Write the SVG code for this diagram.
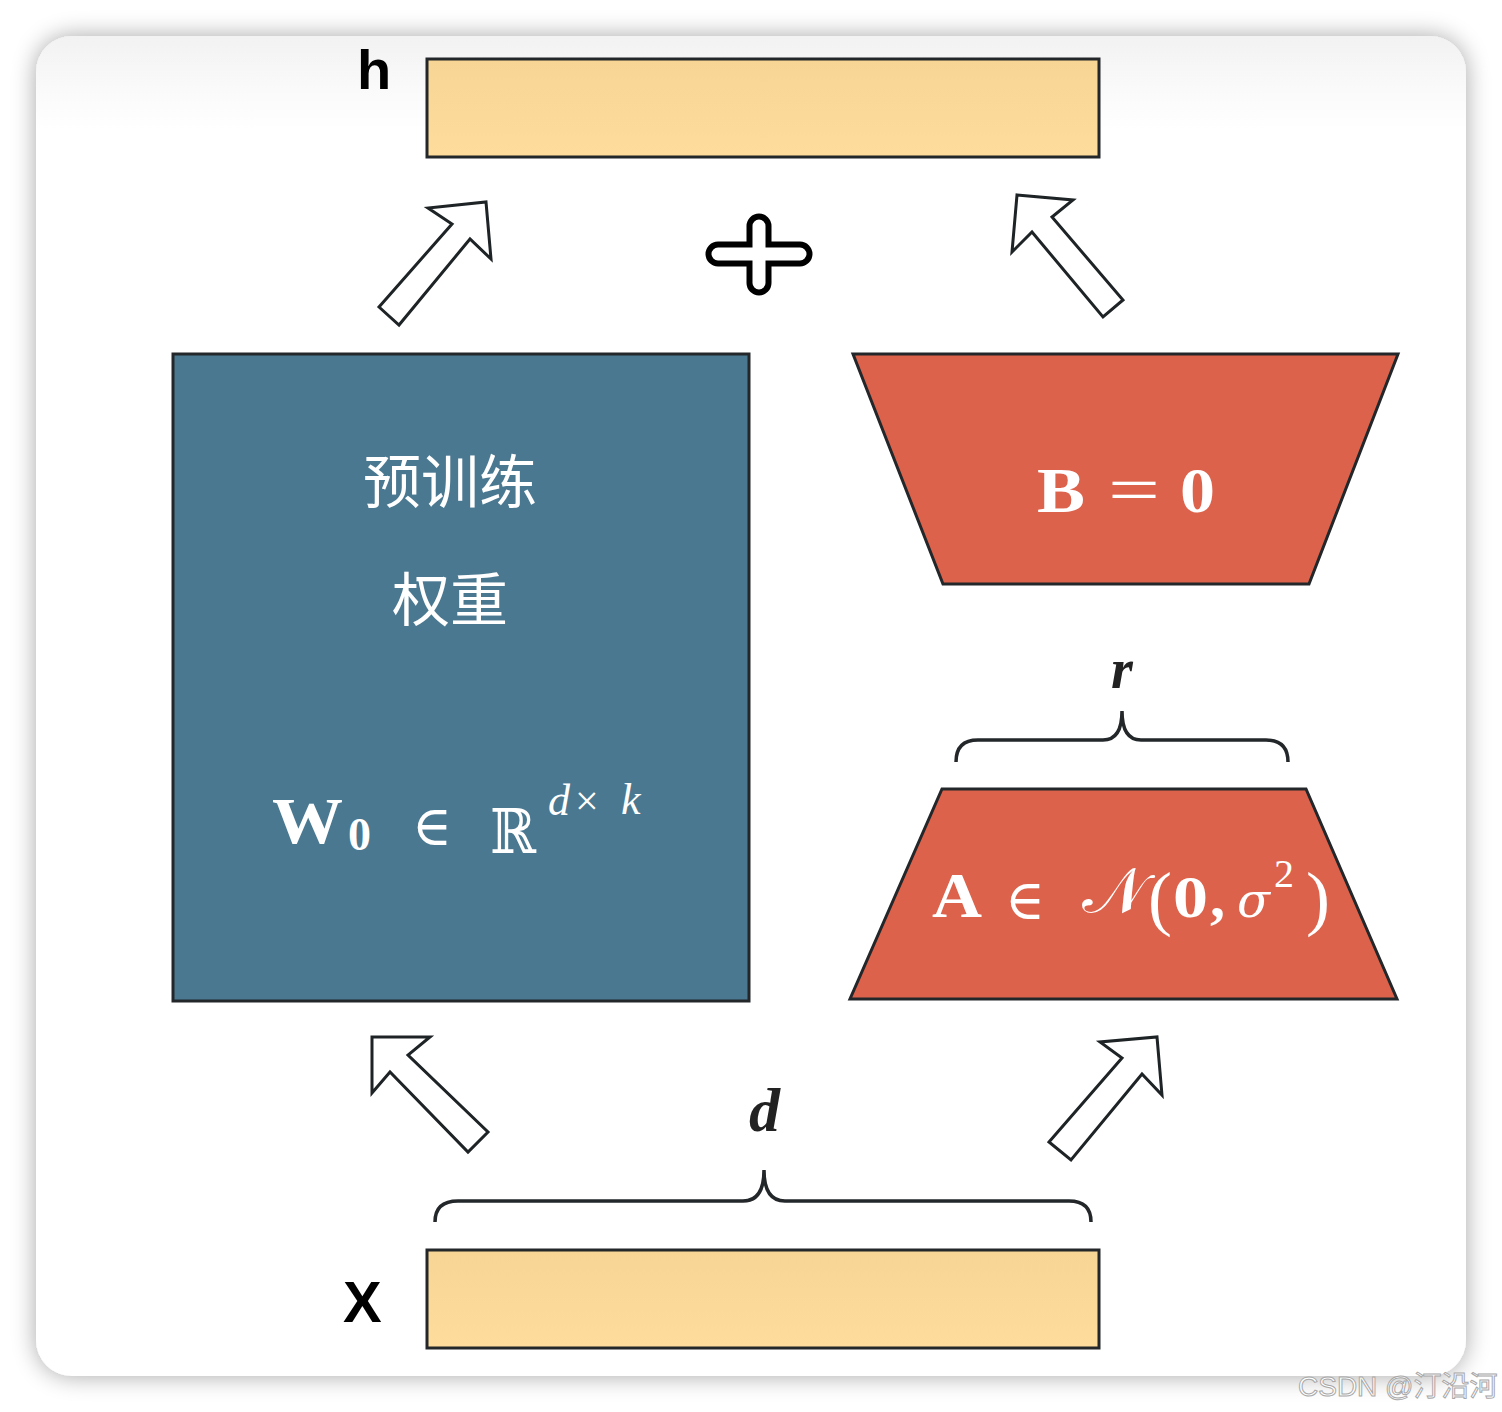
<svg xmlns="http://www.w3.org/2000/svg" width="1502" height="1412" viewBox="0 0 1502 1412">
<defs>
<filter id="shadow" x="-10%" y="-10%" width="120%" height="120%">
<feGaussianBlur in="SourceAlpha" stdDeviation="12"/>
<feComponentTransfer><feFuncA type="linear" slope="0.35"/></feComponentTransfer>
<feMerge><feMergeNode/><feMergeNode in="SourceGraphic"/></feMerge>
</filter>
<linearGradient id="cardg" x1="0" y1="0" x2="0" y2="1">
<stop offset="0" stop-color="#f2f2f2"/>
<stop offset="0.04" stop-color="#fafafa"/>
<stop offset="0.07" stop-color="#ffffff"/>
<stop offset="1" stop-color="#ffffff"/>
</linearGradient>
<linearGradient id="yel" x1="0" y1="0" x2="0" y2="1">
<stop offset="0" stop-color="#f7d594"/>
<stop offset="1" stop-color="#fedc9c"/>
</linearGradient>
<style>
.box{stroke:#23272a;stroke-width:3}
.arrow{fill:#fff;stroke:#1e2326;stroke-width:3;stroke-linejoin:miter}
.brace{fill:none;stroke:#23272a;stroke-width:3.5;stroke-linecap:butt}
.lbl{font-family:"Liberation Sans",Arial,sans-serif;font-weight:bold;fill:#000}
.cjk{font-family:"Noto Sans CJK SC","Noto Sans",sans-serif;fill:#fff;font-size:58px}
.m{font-family:"Liberation Serif","DejaVu Serif",serif;fill:#fff}
.mb{font-family:"Liberation Serif","DejaVu Serif",serif;font-weight:bold;fill:#fff}
.ms{font-family:"DejaVu Serif","Liberation Serif",serif;fill:#fff}
.mi{font-family:"Liberation Serif","DejaVu Serif",serif;font-style:italic;fill:#fff}
.dsi{font-family:"DejaVu Serif",serif;font-style:italic;fill:#fff}
.dk{font-family:"Liberation Serif","DejaVu Serif",serif;font-style:italic;fill:#222}
</style>
</defs>
<rect x="0" y="0" width="1502" height="1412" fill="#ffffff"/>
<rect x="36" y="36" width="1430" height="1340" rx="36" ry="36" fill="url(#cardg)" filter="url(#shadow)"/>

<g id="node-h">
<rect class="box" x="427" y="59" width="672" height="98" fill="url(#yel)"/>
<text class="lbl" x="357" y="89" font-size="56">h</text>
</g>

<g id="node-x">
<rect class="box" x="427" y="1250" width="672" height="98" fill="url(#yel)"/>
<text class="lbl" x="343" y="1322" font-size="58">X</text>
</g>

<g id="node-w0">
<rect class="box" x="173" y="354" width="576" height="647" fill="#4a7891"/>
<text class="cjk" x="450" y="503" text-anchor="middle">预训练</text>
<text class="cjk" x="450" y="621" text-anchor="middle">权重</text>
<text class="mb" x="272" y="843" font-size="66" textLength="71" lengthAdjust="spacingAndGlyphs">W</text>
<text class="mb" x="348" y="850" font-size="46">0</text>
<text class="ms" x="412" y="845" font-size="56" textLength="40" lengthAdjust="spacingAndGlyphs">∈</text>
<text class="ms" x="490" y="853" font-size="62" textLength="46" lengthAdjust="spacingAndGlyphs">ℝ</text>
<text class="mi" x="548" y="815" font-size="44">d</text>
<text class="m" x="575" y="815" font-size="42">×</text>
<text class="mi" x="621" y="814" font-size="44">k</text>
</g>

<g id="node-b">
<polygon class="box" points="853,354 1398,354 1309,584 943,584" fill="#dd624b"/>
<text class="mb" x="1037" y="512" font-size="64" textLength="48" lengthAdjust="spacingAndGlyphs">B</text>
<text class="m" x="1108" y="512" font-size="66" textLength="52" lengthAdjust="spacingAndGlyphs">=</text>
<text class="mb" x="1180" y="512" font-size="64" textLength="35" lengthAdjust="spacingAndGlyphs">0</text>
</g>

<g id="node-a">
<polygon class="box" points="942,789 1306,789 1397,999 850,999" fill="#dd624b"/>
<text class="mb" x="932" y="917" font-size="64" textLength="50" lengthAdjust="spacingAndGlyphs">A</text>
<text class="ms" x="1005" y="919" font-size="56" textLength="40" lengthAdjust="spacingAndGlyphs">∈</text>
<text class="ms" x="1082" y="912" font-size="62" textLength="64" lengthAdjust="spacingAndGlyphs">𝒩</text>
<text class="m" x="1148" y="922" font-size="72">(</text>
<text class="mb" x="1173" y="917" font-size="60" textLength="35" lengthAdjust="spacingAndGlyphs">0</text>
<text class="mb" x="1210" y="917" font-size="60">,</text>
<text class="dsi" x="1237" y="917" font-size="48" textLength="33" lengthAdjust="spacingAndGlyphs">σ</text>
<text class="m" x="1274" y="887" font-size="40">2</text>
<text class="m" x="1306" y="922" font-size="72">)</text>
</g>

<g id="label-r">
<path class="brace" d="M956,762 Q956,740 978,740 L1103,740 Q1122,740 1122,711 Q1122,740 1141,740 L1266,740 Q1288,740 1288,762"/>
<text class="dk" x="1111" y="688" font-size="56" font-weight="bold">r</text>
</g>

<g id="label-d">
<path class="brace" d="M435,1222 Q435,1201 458,1201 L743,1201 Q764,1201 764,1170 Q764,1201 785,1201 L1069,1201 Q1091,1201 1091,1222"/>
<text class="dk" x="749" y="1131" font-size="62" font-weight="bold">d</text>
</g>

<g id="connectors">
<polygon class="arrow" points="379,307 452,224 428,208 486,202 491,259 470,239 399,325"/>
<polygon class="arrow" points="1017,195 1073,200 1052,217 1123,300 1103,317 1032,232 1012,252"/>
<polygon class="arrow" points="372,1037 430,1037 408,1055 488,1132 468,1152 390,1072 372,1093"/>
<polygon class="arrow" points="1049,1142 1122,1058 1100,1042 1157,1037 1162,1095 1142,1074 1071,1160"/>
</g>

<g id="plus">
<path d="M718,254 H800 M759,226 V283" fill="none" stroke="#000" stroke-width="25" stroke-linecap="round"/>
<path d="M718,254 H800 M759,226 V283" fill="none" stroke="#fff" stroke-width="13" stroke-linecap="round"/>
</g>

<text x="1298" y="1396" font-family="'Liberation Sans','Noto Sans CJK SC',sans-serif" font-size="28" fill="#ffffff" stroke="#a8a8a8" stroke-width="1">CSDN @汀沿河</text>
</svg>
